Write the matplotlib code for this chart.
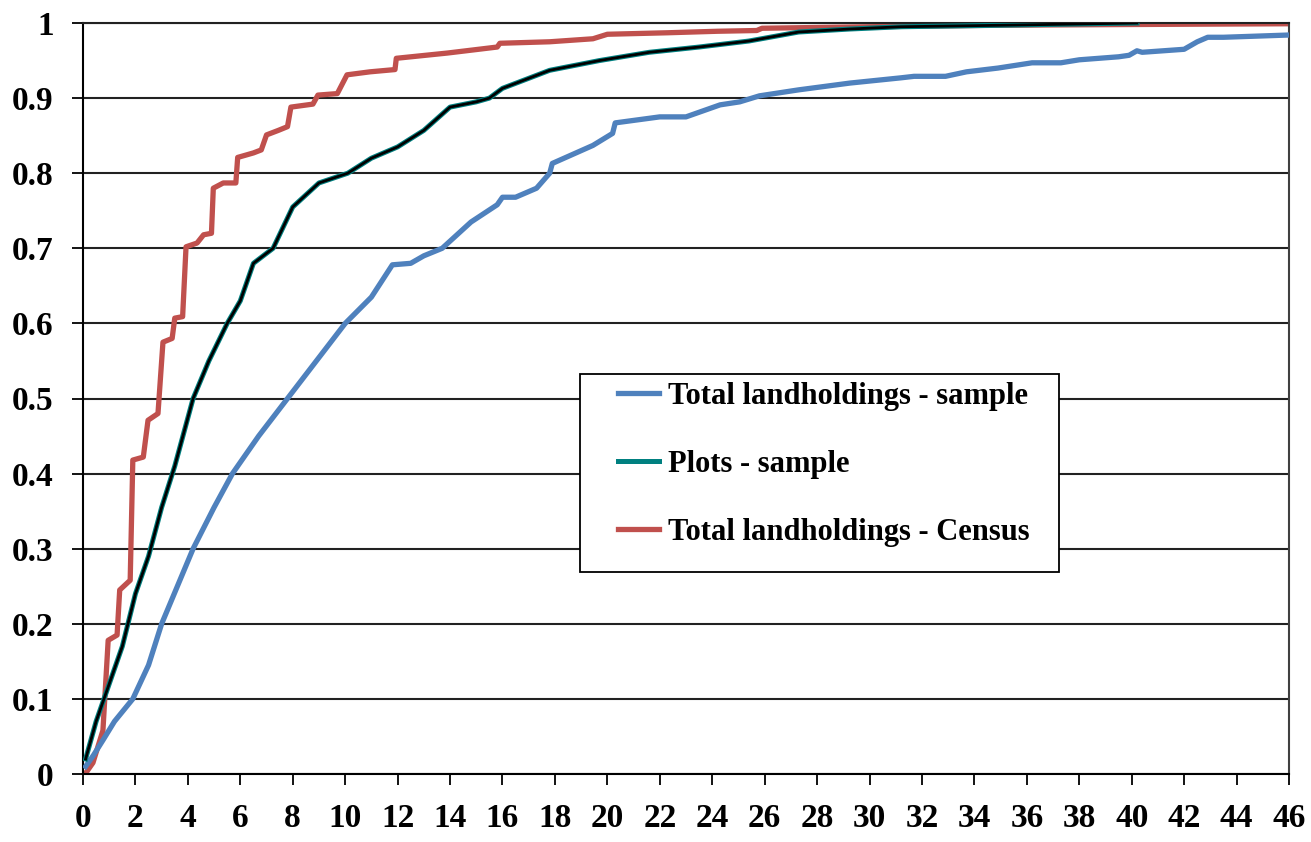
import numpy as np
import matplotlib
matplotlib.use('Agg')
import matplotlib.pyplot as plt
from matplotlib.patches import Rectangle

plt.rcParams['font.family'] = ['Liberation Serif', 'DejaVu Serif']
plt.rcParams['font.weight'] = 'bold'

# Cumulative share of holdings by size
sample_x = [0.1, 0.4, 0.76, 1.2, 1.9, 2.5, 3.0, 3.6, 4.2, 5.0, 5.7, 6.7, 7.8, 8.9, 10.0,
            11.0, 11.8, 12.5, 13.0, 13.7, 14.8, 15.8, 16.0, 16.5, 17.3, 17.8, 17.9, 19.45,
            20.2, 20.3, 22.0, 23.0, 24.3, 25.05, 25.8, 27.3, 29.25, 31.2, 31.7, 32.9, 33.7,
            34.9, 36.2, 37.3, 38.0, 39.5, 39.9, 40.2, 40.4, 41.6, 42.0, 42.5, 42.9, 43.5, 46.0]
sample_y = [0.01, 0.025, 0.045, 0.07, 0.10, 0.145, 0.2, 0.25, 0.3, 0.355, 0.4, 0.45, 0.5,
            0.55, 0.6, 0.635, 0.678, 0.68, 0.69, 0.7, 0.735, 0.758, 0.768, 0.768, 0.78, 0.80,
            0.813, 0.837, 0.853, 0.867, 0.875, 0.875, 0.891, 0.895, 0.903, 0.911, 0.92, 0.927,
            0.929, 0.929, 0.935, 0.94, 0.947, 0.947, 0.951, 0.955, 0.957, 0.963, 0.961, 0.964,
            0.965, 0.975, 0.981, 0.981, 0.984]

plots_x = [0.1, 0.5, 1.0, 1.5, 2.0, 2.5, 3.0, 3.5, 4.2, 4.8, 5.5, 6.0, 6.5, 7.25, 8.0, 9.0,
           10.1, 11.0, 12.0, 13.0, 14.0, 15.0, 15.5, 16.0, 16.9, 17.8, 19.7, 21.6, 23.5,
           25.4, 27.3, 29.25, 31.2, 35.0, 40.2]
plots_y = [0.02, 0.07, 0.12, 0.17, 0.24, 0.29, 0.355, 0.41, 0.5, 0.55, 0.6, 0.63, 0.68,
           0.7, 0.755, 0.787, 0.8, 0.82, 0.835, 0.857, 0.888, 0.895, 0.9, 0.913, 0.925,
           0.937, 0.95, 0.961, 0.968, 0.976, 0.988, 0.992, 0.995, 0.997, 1.0]

census_x = [0.08, 0.38, 0.76, 0.96, 1.3, 1.4, 1.8, 1.9, 2.3, 2.48, 2.86, 3.05, 3.4, 3.5,
            3.8, 3.93, 4.35, 4.6, 4.9, 4.97, 5.35, 5.83, 5.9, 6.5, 6.8, 7.0, 7.45, 7.8,
            7.93, 8.77, 8.96, 9.7, 10.07, 10.95, 11.9, 11.95, 13.9, 15.8, 15.9, 17.8, 19.45,
            20.0, 22.3, 24.2, 25.7, 25.9, 29.9, 35.0, 40.0, 46.0]
census_y = [0.0, 0.015, 0.058, 0.178, 0.185, 0.245, 0.258, 0.418, 0.422, 0.471, 0.48,
            0.575, 0.58, 0.607, 0.609, 0.702, 0.707, 0.718, 0.72, 0.78, 0.787, 0.787, 0.821,
            0.827, 0.831, 0.851, 0.857, 0.862, 0.888, 0.892, 0.904, 0.906, 0.931, 0.935,
            0.938, 0.953, 0.96, 0.968, 0.973, 0.975, 0.979, 0.985, 0.987, 0.989, 0.99,
            0.993, 0.995, 0.997, 0.998, 0.999]

labels = ['Total landholdings - sample', 'Plots - sample', 'Total landholdings - Census']
colors = ['#4F81BD', '#008080', '#C0504D']

fig = plt.figure(figsize=(13.11, 8.42), dpi=100)
ax = fig.add_axes([83 / 1311, 1 - 774 / 842, 1206 / 1311, 751 / 842])

ax.plot(sample_x, sample_y, color=colors[0], lw=3.8, label=labels[0], zorder=3)
ax.plot(plots_x, plots_y, color=colors[1], lw=3.6, label=labels[1], zorder=4)
ax.plot(plots_x, plots_y, color='black', lw=2.0, zorder=5)
ax.plot(census_x, census_y, color=colors[2], lw=3.8, label=labels[2], zorder=2)

ax.set_xlim(0, 46)
ax.set_ylim(0, 1)
ax.set_xticks(np.arange(0, 47, 2))
ax.set_yticks(np.round(np.arange(0, 1.01, 0.1), 1))
ax.set_yticklabels(['0'] + ['%.1f' % v for v in np.arange(0.1, 0.95, 0.1)] + ['1'])
ax.yaxis.grid(True, color='#222222', lw=1.5)
ax.set_axisbelow(True)
ax.tick_params(axis='both', direction='out', length=8, width=1.3, labelsize=24, pad=13)

for lab in ax.get_xticklabels() + ax.get_yticklabels():
   lab.set_fontweight('bold')

for s in ['left', 'bottom']:
   ax.spines[s].set_linewidth(1.5)
   ax.spines[s].set_color('black')
ax.spines['right'].set_color('#404040')
ax.spines['right'].set_linewidth(1.5)
ax.spines['top'].set_color('#222222')
ax.spines['top'].set_linewidth(1.5)

# legend box drawn separately so the padding matches
ax.add_patch(Rectangle((0.412, 0.269), 0.397, 0.264, transform=ax.transAxes,
                       facecolor='white', edgecolor='black', lw=1.3, zorder=6))
leg = ax.legend(loc='upper left', bbox_to_anchor=(0.4436, 0.522), frameon=False,
                prop={'weight': 'bold', 'size': 22}, handlelength=1.35, handletextpad=0.28,
                labelspacing=1.27, borderpad=0, borderaxespad=0)
leg.set_zorder(7)

plt.savefig('out.png', dpi=100)
